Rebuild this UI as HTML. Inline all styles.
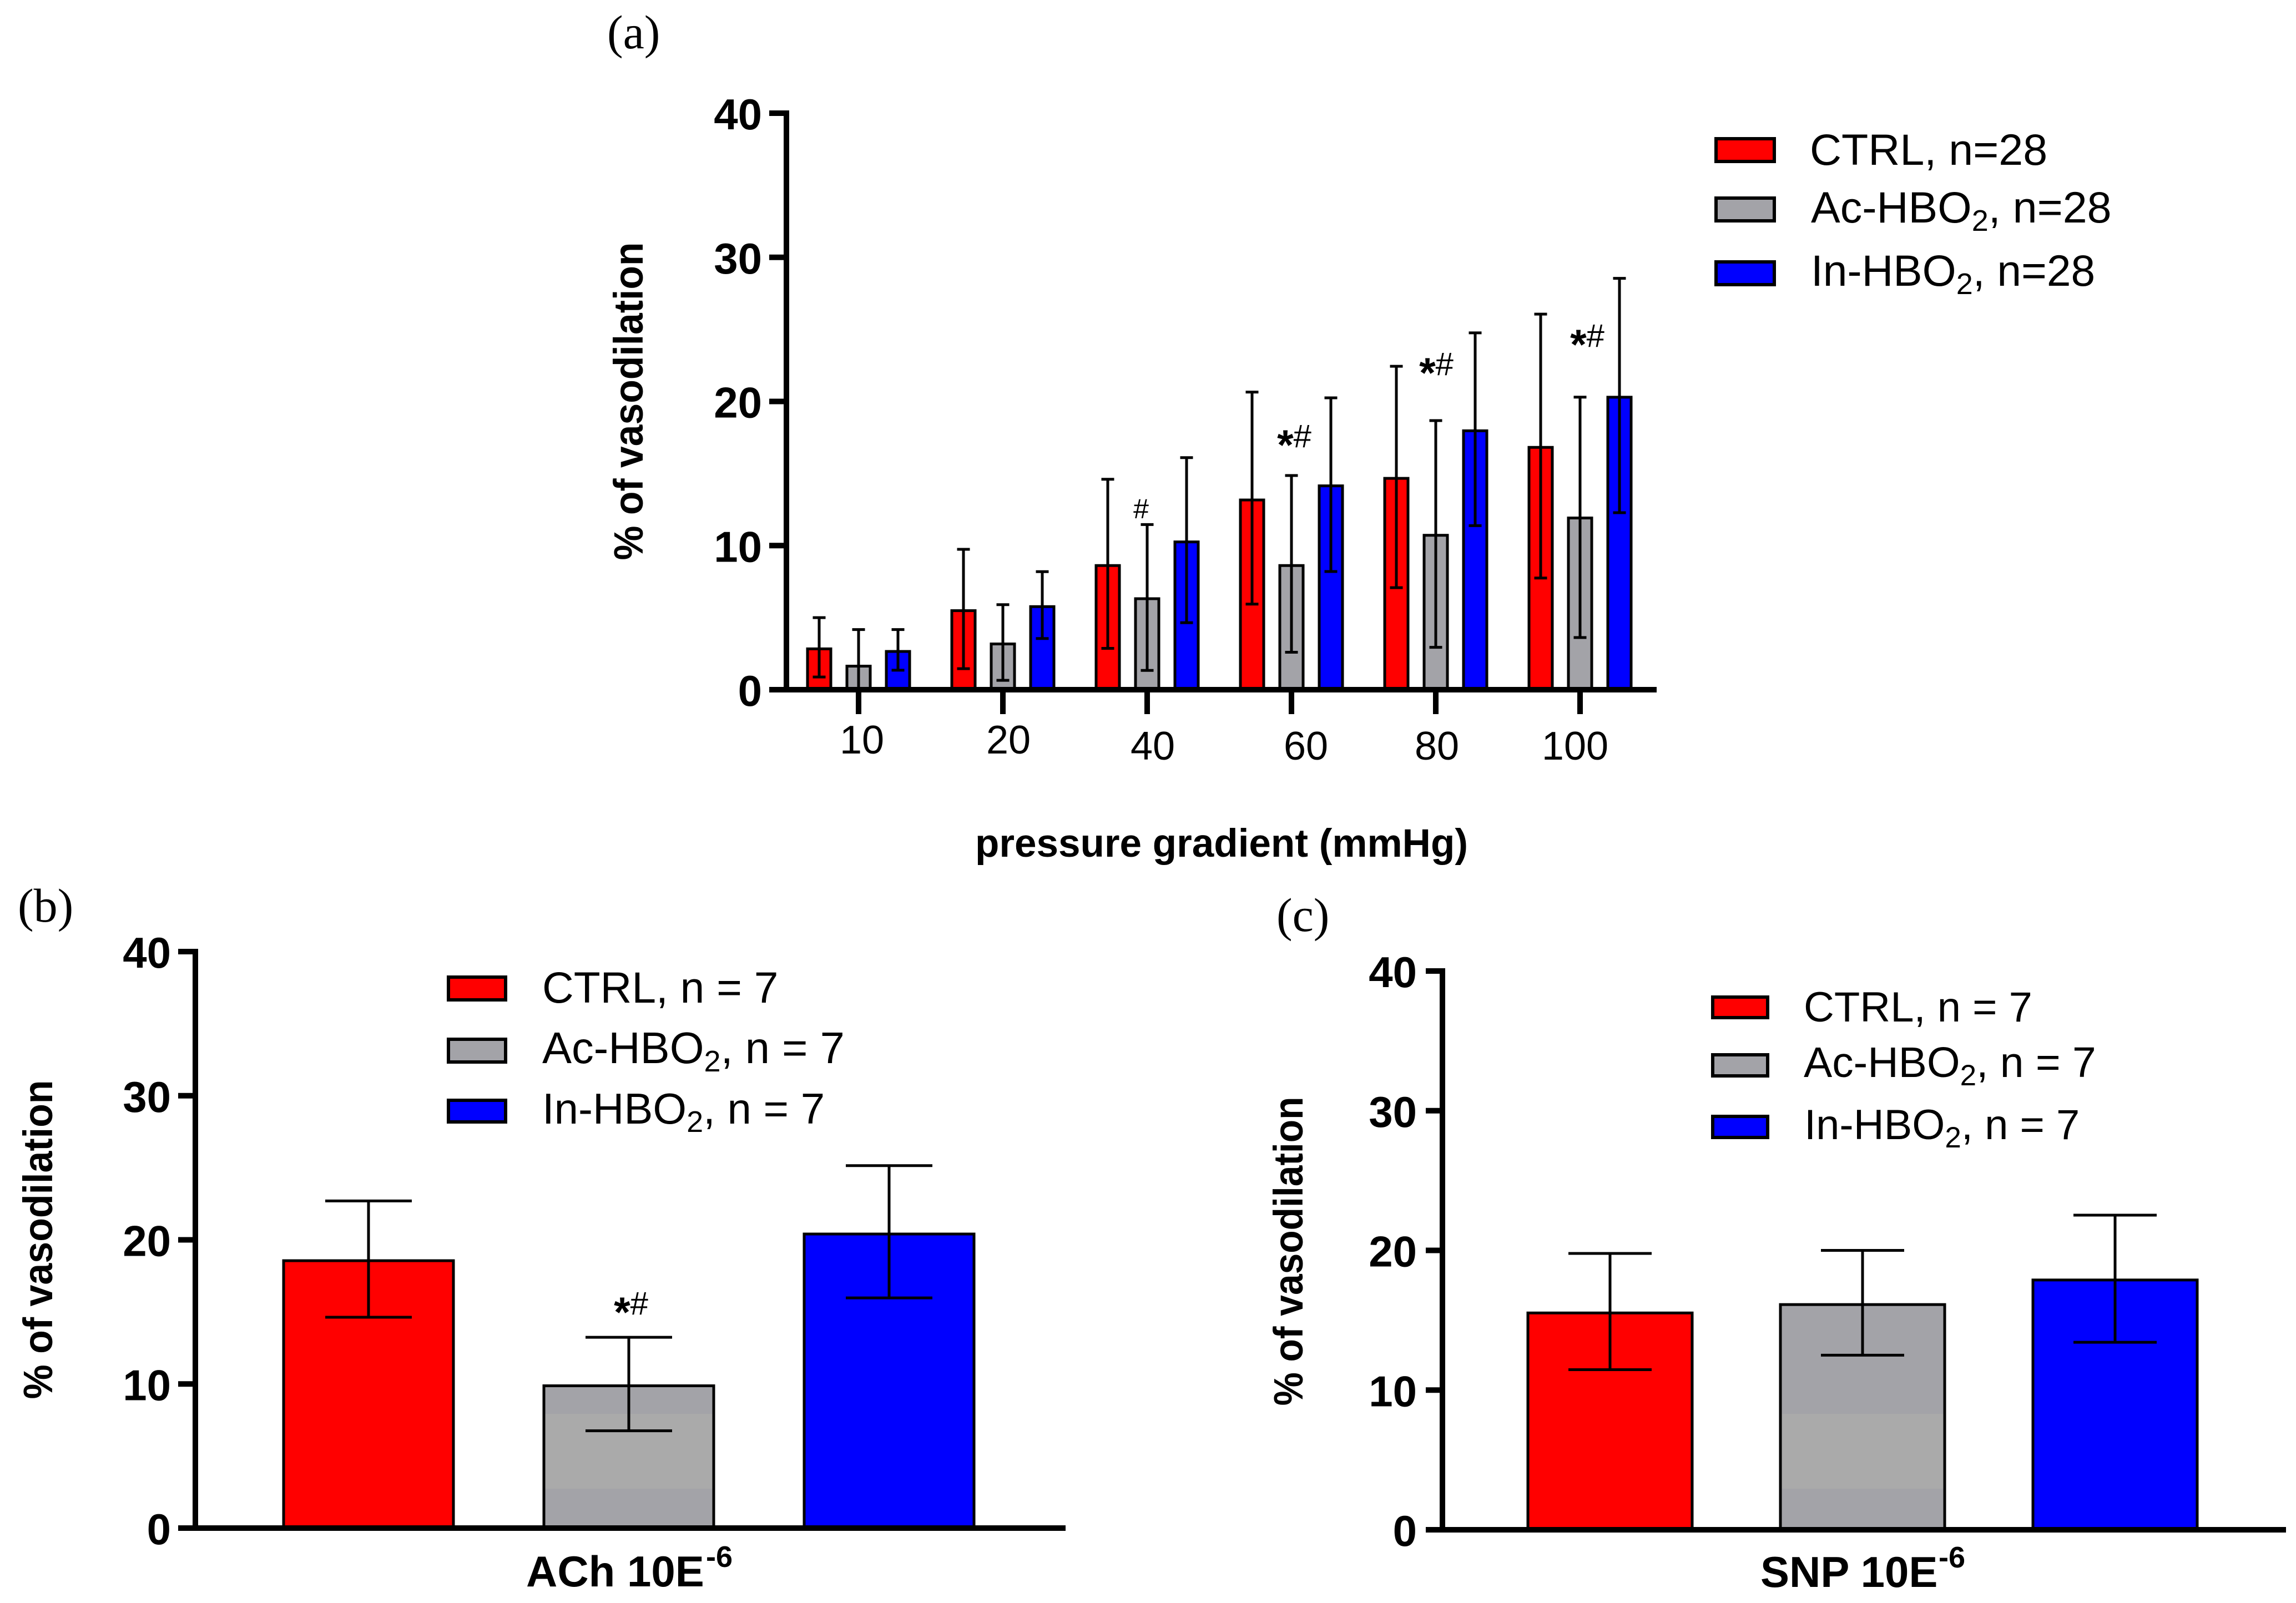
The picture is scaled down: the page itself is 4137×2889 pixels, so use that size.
<!DOCTYPE html>
<html lang="en">
<head>
<meta charset="utf-8">
<title>Vasodilation by pressure gradient, ACh and SNP</title>
<style>
html,body{margin:0;padding:0;background:#fff;}
svg{display:block;}
text{font-family:"Liberation Sans",Arial,sans-serif;fill:#000;}
.serif{font-family:"Liberation Serif","Times New Roman",serif;font-size:86px;}
.bold{font-weight:bold;}
</style>
</head>
<body>
<svg id="figure" xmlns="http://www.w3.org/2000/svg" width="4137" height="2889" viewBox="0 0 4137 2889">
  <rect width="4137" height="2889" fill="#ffffff"/>

  <text class="serif" x="1094" y="87">(a)</text>
  <text class="serif" x="32" y="1661">(b)</text>
  <text class="serif" x="2300" y="1678">(c)</text>

  <text class="bold" font-size="74" text-anchor="middle" textLength="573" lengthAdjust="spacingAndGlyphs" transform="translate(1158 723) rotate(-90)">% of vasodilation</text>
  <text class="bold" font-size="71" x="1757" y="1544" textLength="888" lengthAdjust="spacingAndGlyphs">pressure gradient (mmHg)</text>
  <text class="bold" font-size="74" text-anchor="middle" textLength="575" lengthAdjust="spacingAndGlyphs" transform="translate(94 2234) rotate(-90)">% of vasodilation</text>
  <text class="bold" font-size="74" text-anchor="middle" textLength="557" lengthAdjust="spacingAndGlyphs" transform="translate(2347 2255) rotate(-90)">% of vasodilation</text>

  <text class="bold" font-size="78" x="948" y="2859">ACh 10E</text>
  <text class="bold" font-size="54" x="1272" y="2824">-6</text>
  <text class="bold" font-size="78" x="3172" y="2860">SNP 10E</text>
  <text class="bold" font-size="54" x="3493" y="2825">-6</text>

  <g id="panel-a"></g>
  <g id="panel-b"></g>
  <g id="panel-c"></g>

  <g>
    <g>
      <rect x="3092" y="250" width="105" height="41" fill="#ff0000" stroke="#000" stroke-width="6"/>
      <text style="font-size:79px" x="3261" y="297">CTRL, n=28</text>
    </g>
    <g>
      <rect x="3092" y="357" width="105" height="41" fill="#a3a3a8" stroke="#000" stroke-width="6"/>
      <text style="font-size:79px" x="3263" y="401">Ac-HBO<tspan font-size="54" dy="15">2</tspan><tspan dy="-15">, n=28</tspan></text>
    </g>
    <g>
      <rect x="3092" y="472" width="105" height="41" fill="#0000ff" stroke="#000" stroke-width="6"/>
      <text style="font-size:78.5px" x="3263" y="515">In-HBO<tspan font-size="54" dy="15">2</tspan><tspan dy="-15">, n=28</tspan></text>
    </g>
  </g>

  <g>
    <g>
      <rect x="808" y="1761" width="103" height="41" fill="#ff0000" stroke="#000" stroke-width="6"/>
      <text style="font-size:78.5px" x="977" y="1807">CTRL, n = 7</text>
    </g>
    <g>
      <rect x="808" y="1873" width="103" height="41" fill="#a3a3a8" stroke="#000" stroke-width="6"/>
      <text style="font-size:79.5px" x="977" y="1916">Ac-HBO<tspan font-size="54" dy="15">2</tspan><tspan dy="-15">, n = 7</tspan></text>
    </g>
    <g>
      <rect x="808" y="1983" width="103" height="39" fill="#0000ff" stroke="#000" stroke-width="6"/>
      <text style="font-size:78px" x="977" y="2025">In-HBO<tspan font-size="54" dy="15">2</tspan><tspan dy="-15">, n = 7</tspan></text>
    </g>
  </g>

  <g>
    <g>
      <rect x="3086" y="1797" width="99" height="37" fill="#ff0000" stroke="#000" stroke-width="6"/>
      <text style="font-size:76px" x="3250" y="1841">CTRL, n = 7</text>
    </g>
    <g>
      <rect x="3086" y="1901" width="99" height="38" fill="#a3a3a8" stroke="#000" stroke-width="6"/>
      <text style="font-size:76.8px" x="3250" y="1941">Ac-HBO<tspan font-size="53" dy="15">2</tspan><tspan dy="-15">, n = 7</tspan></text>
    </g>
    <g>
      <rect x="3086" y="2012" width="99" height="38" fill="#0000ff" stroke="#000" stroke-width="6"/>
      <text style="font-size:76px" x="3251" y="2053">In-HBO<tspan font-size="53" dy="15">2</tspan><tspan dy="-15">, n = 7</tspan></text>
    </g>
  </g>
</svg>

<script>
// ---- shared axis data ----
const yTickValues = [0, 10, 20, 30, 40];

// ---- panel (a) data ----
const pressureCategories = ['10', '20', '40', '60', '80', '100'];
const ctrlMean  = [2.93, 5.58, 8.71, 13.26, 14.76, 16.91];
const ctrlUpper = [5.0, 9.74, 14.6, 20.65, 22.44, 26.06];
const ctrlLower = [0.88, 1.46, 2.87, 5.94, 7.08, 7.75];
const acMean    = [1.73, 3.27, 6.41, 8.71, 10.81, 12.01];
const acUpper   = [4.17, 5.9, 11.46, 14.86, 18.67, 20.3];
const acLower   = [0, 0.65, 1.34, 2.6, 2.94, 3.62];
const inMean    = [2.75, 5.86, 10.35, 14.24, 18.06, 20.39];
const inUpper   = [4.17, 8.19, 16.1, 20.25, 24.76, 28.54];
const inLower   = [1.35, 3.55, 4.65, 8.2, 11.38, 12.28];
const significanceLabels = ['', '', '#', '*#', '*#', '*#'];
const significanceLevels = [0, 0, 11.9, 16.82, 21.83, 23.8];

// ---- panel (b) data: CTRL, Ac-HBO2, In-HBO2 ----
const achMean  = [18.65, 9.97, 20.5];
const achUpper = [22.7, 13.24, 25.15];
const achLower = [14.63, 6.75, 15.97];
const achSignificance = ['', '*#', ''];
const achSignificanceLevels = [0, 14.82, 0];

// ---- panel (c) data: CTRL, Ac-HBO2, In-HBO2 ----
const snpMean  = [15.62, 16.22, 17.98];
const snpUpper = [19.78, 20.0, 22.52];
const snpLower = [11.46, 12.5, 13.42];

// ---- styling and layout (not data) ----
const seriesColors = ['#ff0000', '#a3a3a8', '#0000ff'];
const seriesNames = ['ctrl', 'ac-hbo2', 'in-hbo2'];
const xLabelNudgeX = [6, 10, 10, 26, 2, -9];
const xLabelNudgeY = [115, 115, 126, 126, 126, 126];
const annotationNudgeX = [0, 0, -11, 5, 1, 13];

const NS = 'http://www.w3.org/2000/svg';
function mk(parent, tag, attrs, txt) {
  const el = document.createElementNS(NS, tag);
  for (const k in attrs) el.setAttribute(k, attrs[k]);
  if (txt !== undefined) el.textContent = txt;
  parent.appendChild(el);
  return el;
}

function makeYScale(y0, y40) {
  return function (v) { return y0 - v * (y0 - y40) / 40; };
}

// Writes a significance marker: a heavy, low-set asterisk followed by a lighter hash.
function fillMarker(el, label) {
  if (label.charAt(0) === '*') {
    mk(el, 'tspan', {'font-size': 76, 'font-weight': 'bold', dy: 22}, '*');
    mk(el, 'tspan', {'font-size': 58, dy: -22}, label.slice(1));
  } else {
    mk(el, 'tspan', {'font-size': 50}, label);
  }
}

function drawBar(g, yScale, cx, mean, upper, lower, color, opt, name) {
  const top = yScale(mean), base = yScale(0);
  const half = opt.barWidth / 2;
  const b = mk(g, 'rect', {x: cx - half + opt.border / 2, y: top + opt.border / 2, width: opt.barWidth - opt.border, height: Math.max(0, base - top), fill: color});
  
  
  if (opt.band && color === seriesColors[1] && top < opt.band[1]) {
    const bandTop = Math.max(top + opt.border, opt.band[0]);
    const s = mk(g, 'rect', {x: cx - half + opt.border, y: bandTop, width: opt.barWidth - 2 * opt.border, height: opt.band[1] - bandTop, fill: '#aaaaaa'});
    
    
  }
  const o = mk(g, 'rect', {x: cx - half + opt.border / 2, y: top + opt.border / 2, width: opt.barWidth - opt.border, height: Math.max(0, base - top), fill: 'none', stroke: '#000', 'stroke-width': opt.border});
  
  

  const yU = yScale(upper), yL = yScale(lower), c = opt.cap / 2;
  const w = mk(g, 'path', {d: 'M' + (cx - c) + ' ' + yU + 'H' + (cx + c) + 'M' + cx + ' ' + yU + 'V' + yL + 'M' + (cx - c) + ' ' + yL + 'H' + (cx + c), fill: 'none', stroke: '#000', 'stroke-width': opt.whisker});
  
  
}

function drawYAxis(g, yScale, axisX, left, right, labelRight) {
  const axisLine = mk(g, 'line', {x1: axisX, x2: axisX, y1: yScale(40) - 5, y2: yScale(0), stroke: '#000', 'stroke-width': 10});
  
  
  yTickValues.forEach(function (v) {
    const t = mk(g, 'line', {x1: left, x2: axisX, y1: yScale(v), y2: yScale(v), stroke: '#000', 'stroke-width': 10});
    
    
    const l = mk(g, 'text', {x: labelRight, y: yScale(v) + 29, 'text-anchor': 'end', 'font-size': 78, 'font-weight': 'bold'}, String(v));
    
    
  });
  const xLine = mk(g, 'line', {x1: left, x2: right, y1: yScale(0), y2: yScale(0), stroke: '#000', 'stroke-width': 10});
  
  
}

// ---- panel (a) ----
(function () {
  const g = document.getElementById('panel-a');
  const yScale = makeYScale(1243, 204);
  const xGroup = function (i) { return 1547 + 260 * i; };
  const opt = {barWidth: 47, border: 5, cap: 23, whisker: 5};
  const means = [ctrlMean, acMean, inMean];
  const uppers = [ctrlUpper, acUpper, inUpper];
  const lowers = [ctrlLower, acLower, inLower];
  pressureCategories.forEach(function (cat, i) {
    means.forEach(function (m, s) {
      drawBar(g, yScale, xGroup(i) + (s - 1) * 71, m[i], uppers[s][i], lowers[s][i], seriesColors[s], opt, seriesNames[s] + '-' + cat);
    });
  });
  drawYAxis(g, yScale, 1417, 1386, 2985, 1373);
  pressureCategories.forEach(function (cat, i) {
    const t = mk(g, 'line', {x1: xGroup(i), x2: xGroup(i), y1: yScale(0), y2: 1287, stroke: '#000', 'stroke-width': 10});
    
    
    const l = mk(g, 'text', {x: xGroup(i) + xLabelNudgeX[i], y: yScale(0) + xLabelNudgeY[i], 'text-anchor': 'middle', 'font-size': 72}, cat);
    
    
    if (significanceLabels[i]) {
      const a = mk(g, 'text', {x: xGroup(i) + annotationNudgeX[i], y: yScale(significanceLevels[i]), 'text-anchor': 'middle'});
      
      
      fillMarker(a, significanceLabels[i]);
    }
  });
})();

// ---- panel (b) ----
(function () {
  const g = document.getElementById('panel-b');
  const yScale = makeYScale(2754, 1715);
  const xBar = function (i) { return 664 + 469 * i; };
  const opt = {barWidth: 311, border: 5, cap: 156, whisker: 5, band: [2548, 2683]};
  achMean.forEach(function (m, i) {
    drawBar(g, yScale, xBar(i), m, achUpper[i], achLower[i], seriesColors[i], opt, 'ach-' + seriesNames[i]);
    if (achSignificance[i]) {
      const a = mk(g, 'text', {x: xBar(i) + 4, y: yScale(achSignificanceLevels[i]), 'text-anchor': 'middle'});
      
      
      fillMarker(a, achSignificance[i]);
    }
  });
  drawYAxis(g, yScale, 352, 321, 1920, 308);
})();

// ---- panel (c) ----
(function () {
  const g = document.getElementById('panel-c');
  const yScale = makeYScale(2757, 1750);
  const xBar = function (i) { return 2901 + 455 * i; };
  const opt = {barWidth: 301, border: 5, cap: 150, whisker: 5, band: [2548, 2683]};
  snpMean.forEach(function (m, i) {
    drawBar(g, yScale, xBar(i), m, snpUpper[i], snpLower[i], seriesColors[i], opt, 'snp-' + seriesNames[i]);
  });
  drawYAxis(g, yScale, 2599, 2569, 4119, 2553);
})();
</script>
</body>
</html>
